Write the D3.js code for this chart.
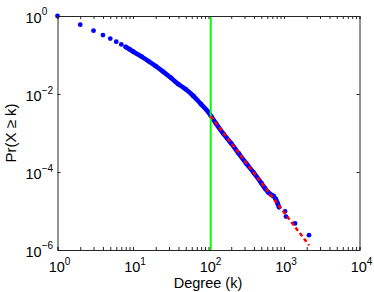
<!DOCTYPE html>
<html>
<head>
<meta charset="utf-8">
<script src="https://cdn.jsdelivr.net/npm/d3@7"></script>
<style>
  body { margin: 0; background: #fff; }
  svg { display: block; font-family: "Liberation Sans", Arial, sans-serif; }
</style>
</head>
<body>
<div id="chart"></div>
<script>
const degree = [1, 2, 3, 4, 5, 6, 7, 8, 9, 10, 13, 16, 20, 25, 32, 40, 50, 63, 79, 100, 107,
  126, 158, 200, 251, 316, 398, 501, 560, 620, 680, 730, 780, 820, 860, 1031, 1062, 1400, 2143];
const prob = [1, 0.60, 0.42, 0.325, 0.263, 0.219, 0.187, 0.161, 0.141, 0.123, 0.091, 0.070,
  0.0519, 0.0376, 0.0257, 0.0178, 0.0132, 0.0089, 0.0056, 0.0034, 0.0028,
  0.00174, 0.00095, 0.00054, 0.0003, 1.66e-4, 9.5e-5, 5.2e-5, 3.8e-5, 3.0e-5, 2.6e-5,
  2.4e-5, 2.0e-5, 1.6e-5, 1.26e-5, 9.8e-6, 7.2e-6, 4.8e-6, 2.4e-6];
// range of degrees where the dots merge into one trace
const traceFrom = 8;
const traceTo = 860;

// power law fit
const fitDegree = [107, 2150];
const fitProb = [2.7e-3, 1.32e-6];
const xminLine = 107;

const xTicks = [1, 10, 100, 1000, 10000];
const xExps = ["0", "1", "2", "3", "4"];
const yTicks = [1, 1e-2, 1e-4, 1e-6];
const yExps = ["0", "\u22122", "\u22124", "\u22126"];

const W = 374, H = 292;
const mLeft = 57.5, mRight = 359.5, mTop = 16, mBottom = 250;

const svg = d3.select("#chart").append("svg")
  .attr("width", W).attr("height", H);

const x = d3.scaleLog().domain([1, 1e4]).range([mLeft, mRight]);
const y = d3.scaleLog().domain([1e-6, 1]).range([mBottom, mTop]);

const pts = degree.map((d, i) => [d, prob[i]]);

// thick trace where the dots merge
const line = d3.line()
  .x(d => x(d[0]))
  .y(d => y(d[1]))
  .curve(d3.curveCatmullRom);

svg.append("path")
  .datum(pts.filter(d => d[0] >= traceFrom && d[0] <= traceTo))
  .attr("d", line)
  .attr("fill", "none")
  .attr("stroke", "#0000ff")
  .attr("stroke-width", 4.6)
  .attr("stroke-linecap", "round")
  .attr("stroke-linejoin", "round");

svg.append("g").selectAll("circle")
  .data(pts)
  .join("circle")
  .attr("cx", d => x(d[0]))
  .attr("cy", d => y(d[1]))
  .attr("r", 2.4)
  .attr("fill", "#0000ff");

// xmin marker
svg.append("line")
  .attr("x1", x(xminLine)).attr("x2", x(xminLine))
  .attr("y1", y(1)).attr("y2", y(1e-6))
  .attr("stroke", "#00ff00")
  .attr("stroke-width", 2);

// fit
svg.append("path")
  .datum(fitDegree.map((d, i) => [d, fitProb[i]]))
  .attr("d", d3.line().x(d => x(d[0])).y(d => y(d[1])))
  .attr("fill", "none")
  .attr("stroke", "#ff0000")
  .attr("stroke-width", 2.5)
  .attr("stroke-dasharray", "4,3");

// axes, matlab style box with inward ticks
const axisColor = "#262626";
const minor = x.ticks();

svg.append("g")
  .attr("transform", "translate(0," + mBottom + ")")
  .call(d3.axisBottom(x).tickValues(minor).tickSize(-3).tickFormat(""));
svg.append("g")
  .attr("transform", "translate(0," + mTop + ")")
  .call(d3.axisTop(x).tickValues(minor).tickSize(-3).tickFormat(""));
svg.append("g")
  .attr("transform", "translate(" + mLeft + ",0)")
  .call(d3.axisLeft(y).tickValues(yTicks).tickSize(-3).tickFormat(""));
svg.append("g")
  .attr("transform", "translate(" + mRight + ",0)")
  .call(d3.axisRight(y).tickValues(yTicks).tickSize(-3).tickFormat(""));

svg.selectAll(".domain").attr("stroke", axisColor);
svg.selectAll(".tick line").attr("stroke", axisColor);

// tick labels
const xl = svg.append("g").attr("font-size", 14.5).attr("fill", "#000");
xTicks.forEach((t, i) => {
  const txt = xl.append("text")
    .attr("x", x(t) + 2)
    .attr("y", 271.5)
    .attr("text-anchor", "middle");
  txt.append("tspan").text("10");
  txt.append("tspan").attr("font-size", 10).attr("dy", -6.5).text(xExps[i]);
});

const yl = svg.append("g").attr("font-size", 14.5).attr("fill", "#000");
yTicks.forEach((t, i) => {
  const txt = yl.append("text")
    .attr("x", 25.5)
    .attr("y", y(t) + 6.8);
  txt.append("tspan").text("10");
  txt.append("tspan").attr("font-size", 10).attr("dy", -7.3).text(yExps[i]);
});

svg.append("text")
  .attr("x", 208)
  .attr("y", 288)
  .attr("text-anchor", "middle")
  .attr("font-size", 14.5)
  .text("Degree (k)");

svg.append("text")
  .attr("transform", "translate(16," + (mTop + mBottom) / 2 + ") rotate(-90)")
  .attr("text-anchor", "middle")
  .attr("font-size", 15)
  .text("Pr(X \u2265 k)");
</script>
</body>
</html>
